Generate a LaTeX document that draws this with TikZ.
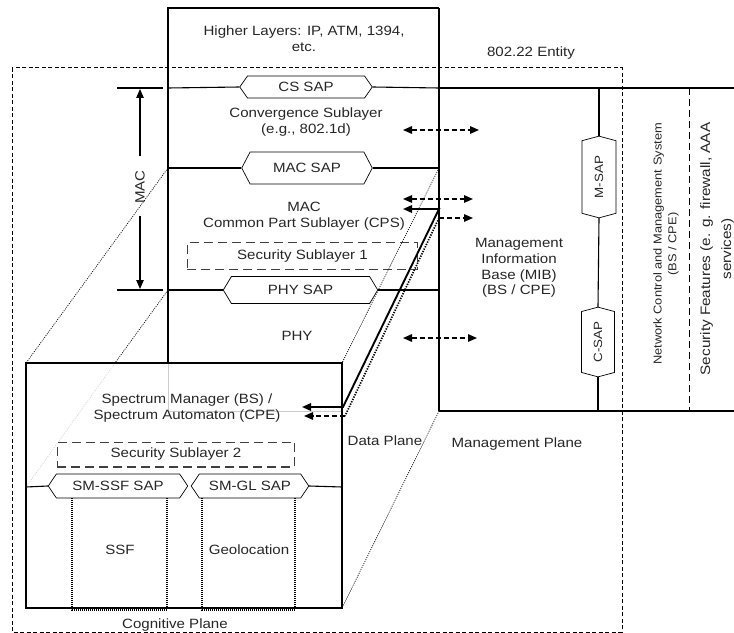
\documentclass[tikz,border=0pt]{standalone}
\usepackage{fontspec}
\setmainfont[FakeStretch=1.12]{Liberation Sans}
\usetikzlibrary{shapes.symbols,arrows.meta}
\begin{document}
\begin{tikzpicture}[x=1bp,y=-1bp,
  >={Triangle[length=9bp,width=7.5bp]},
  txt/.style={font=\fontsize{13.5}{16}\selectfont, align=center, inner sep=0, text=black!85},
  sap/.style={draw, shape=signal, signal to=east and west, inner sep=0, font=\fontsize{13.5}{16}\selectfont, line width=0.7, text=black!85},
  ln/.style={line width=1.1},
  thk/.style={line width=1.6},
  ent/.style={line width=1, dash pattern=on 4bp off 2.5bp},
  proj/.style={line width=0.7, dash pattern=on 1bp off 1.2bp},
  hidden/.style={gray!40, line width=0.6},
  sec/.style={draw=black!75, line width=1.1, dash pattern=on 9bp off 5bp, inner sep=0, font=\fontsize{13.5}{16}\selectfont, text=black!85},
  dsh/.style={line width=1.4, dash pattern=on 5bp off 3bp},
  dbl/.style={dsh, <->},
  fnbox/.style={line width=1.5, dash pattern=on 1bp off 1bp}
]
\useasboundingbox (0,0) rectangle (734,633);

% 802.22 entity
\draw[ent] (12,68) rectangle (622,632);
\node[txt] (entity) at (531,53) {802.22 Entity};

% data plane stack outline
\draw[ln] (168,88) -- (168,8) -- (439,8);
\draw[thk] (439,8) -- (439,411);
\draw[thk] (168,88) -- (168,290);
\draw[ln] (168,290) -- (168,363);
\node[txt] (higher) at (304,39) {Higher Layers: IP, ATM, 1394,\\etc.};

% SAPs of data plane
\node[sap, minimum width=133, minimum height=22, signal pointer angle=110] (cssap) at (306,87) {CS SAP};
\node[sap, minimum width=131, minimum height=32, signal pointer angle=125] (macsap) at (307,168) {MAC SAP};
\node[sap, minimum width=155, minimum height=27, signal pointer angle=118] (physap) at (300.5,290) {PHY SAP};
\draw[ln] (168,88) -- (cssap.west);
\draw[ln] (cssap.east) -- (439,88);
\draw[thk] (439,88) -- (734,88);
\draw[ln] (168,168) -- (macsap.west);
\draw[ln] (macsap.east) -- (439,168);
\draw[ln] (168,290) -- (physap.west);
\draw[ln] (physap.east) -- (439,290);

\node[txt] (conv) at (306,122) {Convergence Sublayer\\(e.g., 802.1d)};
\node[txt] (cps) at (304,216) {MAC\\Common Part Sublayer (CPS)};
\node[sec, minimum width=231, minimum height=27] (sec1) at (302.5,256) {Security Sublayer 1};
\node[txt] (phy) at (297,336) {PHY};

% MAC dimension
\draw[ln] (117,88) -- (163,88);
\draw[ln] (117,290) -- (163,290);
\draw[ln, ->] (140,156) -- (140,89);
\draw[ln, ->] (140,216) -- (140,289);
\node[txt, rotate=90] (mac) at (140,187) {MAC};

% projection lines
\draw[proj] (168,168) -- (26,363);
\draw[proj] (168,290) -- (115,363);
\draw[hidden, dash pattern=on 1bp off 1.2bp] (115,363) -- (26,487);
\draw[proj] (439,168) -- (342,363);
\draw[proj] (439,411) -- (342,608);
\draw[hidden] (168,363) -- (168,411) -- (342,411);

% cognitive plane
\draw[ln] (26,363) rectangle (342,608);
\node[txt] (spm) at (187,408) {Spectrum Manager (BS) /\\Spectrum Automaton (CPE)};
\node[sec, minimum width=238, minimum height=25] (sec2) at (176,454.5) {Security Sublayer 2};
\node[sap, minimum width=140, minimum height=24, signal pointer angle=112] (ssfsap) at (118,486) {SM-SSF SAP};
\node[sap, minimum width=118, minimum height=24, signal pointer angle=112] (glsap) at (250,486) {SM-GL SAP};
\draw[ln] (26,487) -- (ssfsap.west);
\draw[ln] (glsap.east) -- (342,487);
\draw[fnbox] (72,498) -- (72,610) -- (167,610) -- (167,498);
\draw[fnbox] (202,498) -- (202,610) -- (295,610) -- (295,498);
\node[txt] (ssf) at (120,550) {SSF};
\node[txt] (geo) at (249,550) {Geolocation};
\node[txt] (cog) at (175,625) {Cognitive Plane};

% data/control paths between planes
\coordinate (a1) at (403,209);
\coordinate (a2) at (439,209);
\coordinate (a3) at (343,407);
\coordinate (a4) at (302,407);
\draw[line width=1.9, <->] (a1) -- (a2) -- (a3) -- (a4);
\coordinate (b1) at (473,218);
\coordinate (b2) at (439,218);
\coordinate (b3) at (345,416);
\coordinate (b4) at (304,416);
\draw[line width=1.7, dash pattern=on 1.3bp off 1.3bp] (b2) -- (b3);
\draw[dsh, ->] (b2) -- (b1);
\draw[dsh, ->] (b3) -- (b4);

% management bidirectional arrows
\coordinate (c1l) at (403,130); \coordinate (c1r) at (479,130);
\coordinate (c2l) at (403,199); \coordinate (c2r) at (473,199);
\coordinate (c3l) at (403,338); \coordinate (c3r) at (477,338);
\draw[dbl] (c1l) -- (c1r);
\draw[dbl] (c2l) -- (c2r);
\draw[dbl] (c3l) -- (c3r);

\node[txt, font=\fontsize{13.5}{15.7}\selectfont] (mib) at (519,268) {Management\\Information\\Base (MIB)\\(BS / CPE)};
\node[txt] (dp) at (385,441) {Data Plane};
\node[txt] (mp) at (517,444) {Management Plane};

% management side
\draw[thk] (439,411) -- (734,411);
\node[sap, rotate=90, minimum width=82, minimum height=34, signal pointer angle=150, font=\fontsize{12}{14}\selectfont] (msap) at (599,177) {M-SAP};
\node[sap, rotate=90, minimum width=70, minimum height=33, signal pointer angle=150, font=\fontsize{12}{14}\selectfont] (csap) at (598,342) {C-SAP};
\draw[ln] (599,88) -- (msap.east);
\draw[ln] (msap.west) -- (csap.east);
\draw[ln] (csap.west) -- (598,411);
\draw[line width=1, dash pattern=on 7bp off 4bp] (689,88) -- (689,411);
\node[txt, rotate=90, font=\fontsize{11.5}{15}\selectfont] (ncms) at (666,244) {Network Control and Management System\\(BS / CPE)};
\node[txt, rotate=90, font=\fontsize{13.7}{21}\selectfont] (secf) at (717,249) {Security Features (e. g. firewall, AAA\\services)};
\end{tikzpicture}
\end{document}
